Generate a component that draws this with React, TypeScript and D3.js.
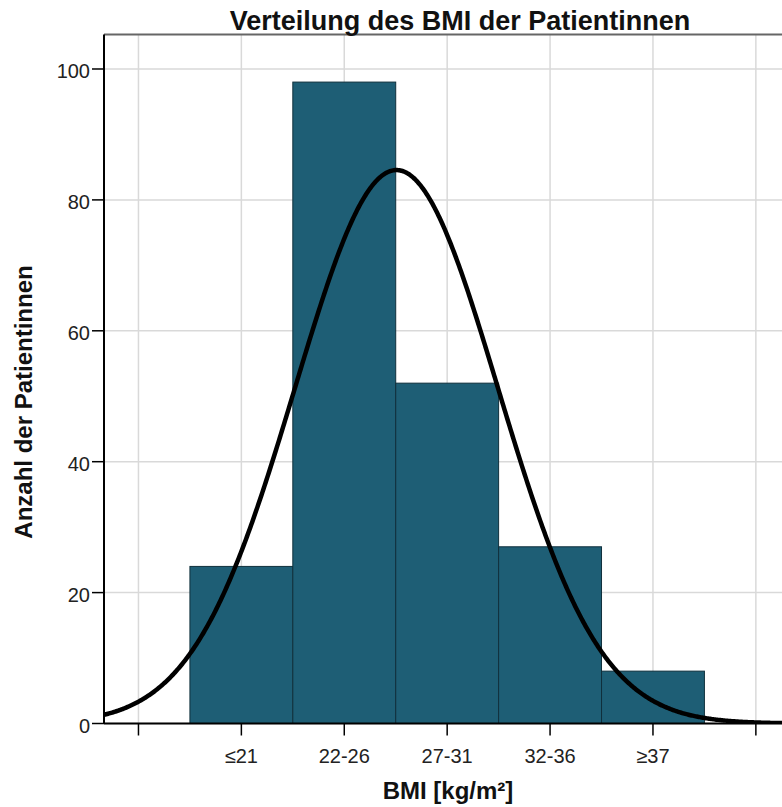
import React from 'react';
import * as d3 from 'd3';

// histogram classes (SPSS codes 1..5)
const categories = ['≤21', '22-26', '27-31', '32-36', '≥37'];
const codes = [1, 2, 3, 4, 5];
const counts = [24, 98, 52, 27, 8];
const yTicks = [0, 20, 40, 60, 80, 100];
const xTicks = [0, 1, 2, 3, 4, 5, 6];

const W = 782;
const H = 807;
const left = 104;
const right = 782;
const top = 34.5;
const bottom = 723.5;
const font = '"Liberation Sans", Arial, sans-serif';

export default function App() {
  const x = d3.scaleLinear().domain([-0.335, 6.254]).range([left, right]);
  const y = d3.scaleLinear().domain([0, 105.27]).range([bottom, top]);

  // normal curve fitted to the histogram
  const n = d3.sum(counts);
  const mean = d3.sum(codes, (c, i) => c * counts[i]) / n;
  const variance = d3.sum(codes, (c, i) => counts[i] * (c - mean) ** 2) / (n - 1);
  const sd = Math.sqrt(variance);
  const pdf = (v: number) =>
    Math.exp(-0.5 * ((v - mean) / sd) ** 2) / (sd * Math.sqrt(2 * Math.PI));
  const [d0, d1] = x.domain();
  const curvePts = d3.range(d0, d1 + 0.01, 0.01).map((v) => [v, n * pdf(v)] as [number, number]);
  const line = d3.line<[number, number]>()
    .x((d) => x(d[0]))
    .y((d) => y(d[1]));

  return (
    <svg width={W} height={H} style={{ position: 'absolute', left: 0, top: 0, background: '#fff' }}>
      <defs>
        <clipPath id="plot">
          <rect x={left} y={top} width={right - left} height={bottom - top} />
        </clipPath>
      </defs>

      {/* grid */}
      <g stroke="#d9d9d9" strokeWidth={1.5}>
        {xTicks.map((t) => (
          <line key={'gx' + t} x1={x(t)} x2={x(t)} y1={top} y2={bottom} />
        ))}
        {yTicks.map((t) => (
          <line key={'gy' + t} x1={left} x2={right} y1={y(t)} y2={y(t)} />
        ))}
      </g>

      {/* bars */}
      <g fill="#1e5e75" stroke="#10303c" strokeWidth={1}>
        {codes.map((c, i) => (
          <rect
            key={categories[i]}
            x={x(c - 0.5)}
            y={y(counts[i])}
            width={x(c + 0.5) - x(c - 0.5)}
            height={y(0) - y(counts[i])}
          />
        ))}
      </g>

      {/* normal curve */}
      <path
        d={line(curvePts) || ''}
        fill="none"
        stroke="#000"
        strokeWidth={4.5}
        clipPath="url(#plot)"
      />

      {/* frame */}
      <line x1={left} x2={right} y1={top} y2={top} stroke="#666" strokeWidth={2} />
      <line x1={left} x2={left} y1={top} y2={bottom} stroke="#000" strokeWidth={2} />
      <line x1={left} x2={right} y1={bottom} y2={bottom} stroke="#000" strokeWidth={2} />

      {/* y axis */}
      <g fontFamily={font} fontSize={20} fill="#222">
        {yTicks.map((t) => (
          <g key={'yt' + t}>
            <line x1={left - 12} x2={left} y1={y(t)} y2={y(t)} stroke="#000" strokeWidth={1.5} />
            <text x={left - 14} y={y(t) + 9} textAnchor="end">{t}</text>
          </g>
        ))}
      </g>

      {/* x axis */}
      <g fontFamily={font} fontSize={20} fill="#222">
        {xTicks.map((t) => (
          <line key={'xt' + t} x1={x(t)} x2={x(t)} y1={bottom} y2={bottom + 12} stroke="#000" strokeWidth={1.5} />
        ))}
        {codes.map((c, i) => (
          <text key={'xl' + c} x={x(c)} y={763} textAnchor="middle">{categories[i]}</text>
        ))}
      </g>

      {/* titles */}
      <text x={460} y={30} textAnchor="middle" fontFamily={font} fontWeight="bold" fontSize={27} fill="#111">
        Verteilung des BMI der Patientinnen
      </text>
      <text
        transform="translate(32,402) rotate(-90)"
        textAnchor="middle"
        fontFamily={font}
        fontWeight="bold"
        fontSize={24}
        fill="#111"
      >
        Anzahl der Patientinnen
      </text>
      <text x={448} y={799} textAnchor="middle" fontFamily={font} fontWeight="bold" fontSize={24} fill="#111">
        BMI [kg/m²]
      </text>
    </svg>
  );
}
